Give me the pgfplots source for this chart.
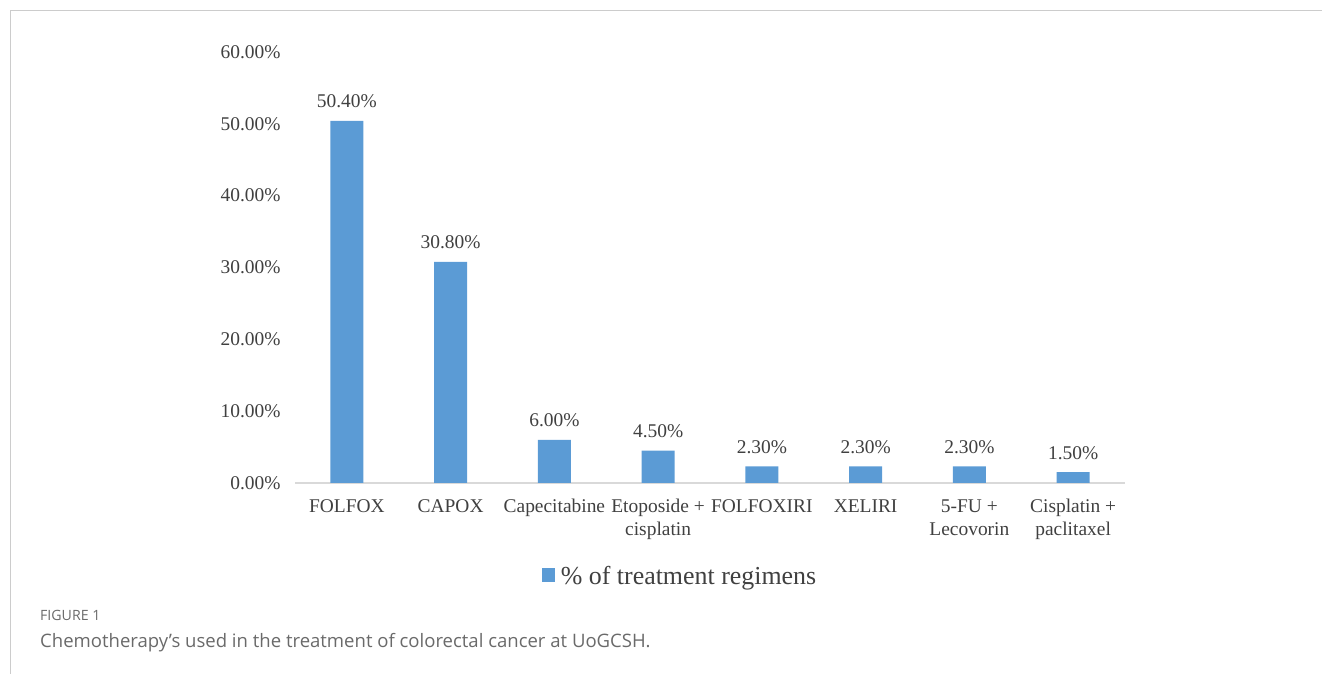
\documentclass[border=0pt]{standalone}
\usepackage{pgfplots}
\pgfplotsset{compat=1.18}
\usepackage{fontspec}
\setmainfont{Liberation Serif}
\newfontfamily\capfont{Open Sans}
\definecolor{barblue}{HTML}{5B9BD5}
\definecolor{txt}{HTML}{404040}
\definecolor{axgray}{HTML}{D9D9D9}
\definecolor{framegray}{HTML}{CCCCCC}
\definecolor{capgray}{HTML}{6A6A6A}
\begin{document}
\begin{tikzpicture}
\useasboundingbox (0bp,0bp) rectangle (1322bp,674bp);
\draw[framegray, line width=1bp] (10bp,0bp) -- (10bp,663bp) -- (1322bp,663bp);
\begin{axis}[
  at={(295bp,191bp)}, anchor=south west,
  scale only axis, width=830bp, height=431bp,
  xmin=-0.5, xmax=7.5, ymin=0, ymax=60,
  enlargelimits=false, clip=false,
  axis lines*=left,
  axis line style={-},
  x axis line style={axgray, line width=1.3bp},
  y axis line style={draw=none},
  major tick length=0pt,
  xtick={0,1,2,3,4,5,6,7},
  xticklabels={FOLFOX, CAPOX, Capecitabine, {Etoposide +\\cisplatin}, FOLFOXIRI, XELIRI, {5-FU +\\Lecovorin}, {Cisplatin +\\paclitaxel}},
  xticklabel style={align=center, font=\fontsize{19.5}{23}\selectfont, text=txt, yshift=-13bp},
  ytick={0,10,20,30,40,50,60},
  yticklabels={0.00\%,10.00\%,20.00\%,30.00\%,40.00\%,50.00\%,60.00\%},
  yticklabel style={font=\fontsize{19.5}{23}\selectfont, text=txt, xshift=-11bp},
  ybar, bar width=33bp,
  point meta=explicit symbolic,
  nodes near coords,
  every node near coord/.append style={anchor=base, yshift=13bp, font=\fontsize{19.5}{23}\selectfont, text=txt, inner sep=0pt},
  legend style={at={(0.4639,-0.2158)}, anchor=center, draw=none, fill=none,
    font=\fontsize{26}{30}\selectfont, text=txt},
  legend image code/.code={\fill[barblue] (0bp,-6bp) rectangle (13bp,8bp);},
]
\addplot[fill=barblue, draw=none] coordinates {
(0,50.4) [50.40\%]
(1,30.8) [30.80\%]
(2,6.0) [6.00\%]
(3,4.5) [4.50\%]
(4,2.3) [2.30\%]
(5,2.3) [2.30\%]
(6,2.3) [2.30\%]
(7,1.5) [1.50\%]
};
\addlegendentry{\hspace{4bp}\% of treatment regimens}
\end{axis}
\node[anchor=base west, inner sep=0pt, font=\capfont\fontsize{14.2}{16}\selectfont, text=capgray] at (40bp,53bp) {FIGURE 1};
\node[anchor=base west, inner sep=0pt, font=\capfont\fontsize{18.6}{22}\selectfont, text=capgray] at (40bp,27bp) {Chemotherapy’s used in the treatment of colorectal cancer at UoGCSH.};
\end{tikzpicture}
\end{document}
